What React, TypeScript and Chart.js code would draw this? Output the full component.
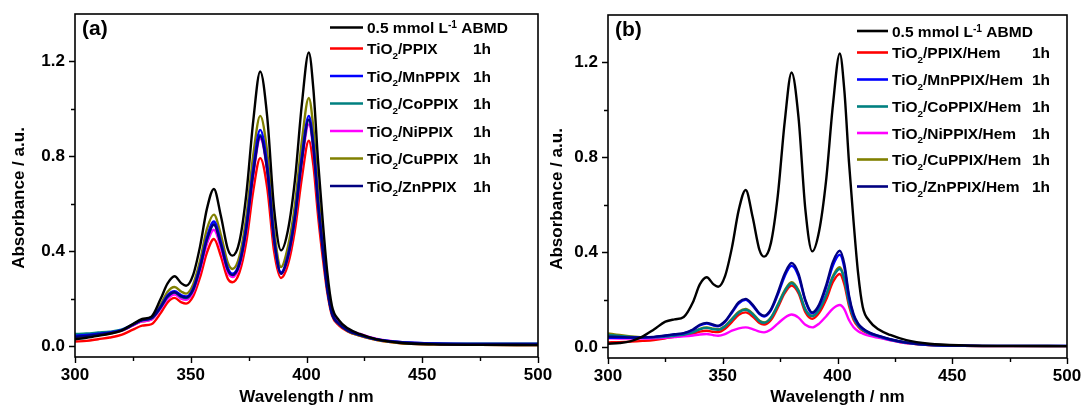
import React, { useEffect, useRef } from 'react';
import { Chart, registerables } from 'chart.js';

Chart.register(...registerables);

// ---------- data ----------
const WAVELENGTHS = [300, 305, 310, 315, 320, 325, 329, 333, 337, 340, 343, 346, 348, 351, 354, 357, 360, 363, 366, 368, 371, 374, 377, 380, 383, 386, 389, 392, 395, 398, 401, 403, 405, 407, 409, 411, 414, 418, 423, 430, 440, 455, 475, 500];

const X_TICKS = [300, 325, 350, 375, 400, 425, 450, 475, 500];
const X_TICK_LABELS = ['300', '', '350', '', '400', '', '450', '', '500'];
const Y_TICKS = [0, 0.2, 0.4, 0.6, 0.8, 1.0, 1.2];
const Y_TICK_LABELS = ['0.0', '', '0.4', '', '0.8', '', '1.2'];

const X_TITLE = 'Wavelength / nm';
const Y_TITLE = 'Absorbance / a.u.';
const DURATION = '1h';

const LABELS_A = ['0.5 mmol L^{-1} ABMD', 'TiO_{2}/PPIX', 'TiO_{2}/MnPPIX', 'TiO_{2}/CoPPIX', 'TiO_{2}/NiPPIX', 'TiO_{2}/CuPPIX', 'TiO_{2}/ZnPPIX'];
const LABELS_B = ['0.5 mmol L^{-1} ABMD', 'TiO_{2}/PPIX/Hem', 'TiO_{2}/MnPPIX/Hem', 'TiO_{2}/CoPPIX/Hem', 'TiO_{2}/NiPPIX/Hem', 'TiO_{2}/CuPPIX/Hem', 'TiO_{2}/ZnPPIX/Hem'];

// panel (a)
const A_ABMD = [0.03, 0.036, 0.044, 0.053, 0.066, 0.094, 0.115, 0.125, 0.20, 0.265, 0.295, 0.265, 0.255, 0.30, 0.42, 0.58, 0.663, 0.55, 0.41, 0.382, 0.44, 0.64, 0.95, 1.158, 0.97, 0.58, 0.404, 0.49, 0.70, 1.02, 1.238, 1.08, 0.78, 0.53, 0.31, 0.17, 0.11, 0.075, 0.052, 0.03, 0.015, 0.008, 0.006, 0.005];
const A_PPIX = [0.02, 0.023, 0.03, 0.037, 0.048, 0.07, 0.087, 0.093, 0.14, 0.185, 0.204, 0.185, 0.18, 0.21, 0.29, 0.395, 0.452, 0.38, 0.285, 0.27, 0.31, 0.44, 0.655, 0.793, 0.67, 0.40, 0.288, 0.345, 0.49, 0.71, 0.866, 0.76, 0.55, 0.375, 0.225, 0.13, 0.088, 0.062, 0.045, 0.027, 0.014, 0.008, 0.006, 0.005];
const A_MN = [0.045, 0.048, 0.053, 0.058, 0.068, 0.092, 0.112, 0.12, 0.168, 0.215, 0.232, 0.215, 0.21, 0.243, 0.338, 0.46, 0.526, 0.44, 0.33, 0.306, 0.352, 0.508, 0.75, 0.912, 0.765, 0.455, 0.312, 0.385, 0.55, 0.80, 0.971, 0.85, 0.61, 0.415, 0.245, 0.14, 0.095, 0.066, 0.048, 0.03, 0.018, 0.012, 0.01, 0.01];
const A_CO = [0.052, 0.054, 0.058, 0.062, 0.07, 0.092, 0.11, 0.117, 0.163, 0.208, 0.226, 0.208, 0.203, 0.236, 0.33, 0.45, 0.515, 0.432, 0.324, 0.302, 0.347, 0.50, 0.735, 0.89, 0.75, 0.448, 0.308, 0.38, 0.545, 0.79, 0.955, 0.835, 0.60, 0.41, 0.24, 0.138, 0.094, 0.066, 0.048, 0.03, 0.018, 0.012, 0.011, 0.011];
const A_NI = [0.045, 0.047, 0.052, 0.057, 0.066, 0.088, 0.105, 0.112, 0.158, 0.20, 0.218, 0.20, 0.196, 0.228, 0.318, 0.432, 0.491, 0.415, 0.312, 0.292, 0.336, 0.485, 0.72, 0.875, 0.74, 0.445, 0.305, 0.372, 0.535, 0.775, 0.935, 0.825, 0.60, 0.415, 0.25, 0.148, 0.102, 0.072, 0.052, 0.032, 0.018, 0.011, 0.009, 0.009];
const A_CU = [0.038, 0.042, 0.047, 0.054, 0.065, 0.088, 0.105, 0.113, 0.176, 0.23, 0.25, 0.23, 0.222, 0.26, 0.36, 0.495, 0.555, 0.47, 0.352, 0.326, 0.378, 0.545, 0.806, 0.971, 0.82, 0.49, 0.334, 0.42, 0.596, 0.865, 1.046, 0.915, 0.66, 0.45, 0.265, 0.148, 0.095, 0.063, 0.045, 0.027, 0.014, 0.008, 0.006, 0.005];
const A_ZN = [0.04, 0.044, 0.05, 0.056, 0.066, 0.09, 0.11, 0.118, 0.165, 0.21, 0.228, 0.21, 0.205, 0.238, 0.33, 0.45, 0.512, 0.43, 0.322, 0.30, 0.345, 0.495, 0.73, 0.885, 0.745, 0.45, 0.306, 0.378, 0.54, 0.785, 0.955, 0.835, 0.60, 0.41, 0.24, 0.138, 0.094, 0.065, 0.047, 0.029, 0.017, 0.011, 0.01, 0.01];

// panel (b)
const B_ABMD = [0.015, 0.018, 0.026, 0.045, 0.075, 0.108, 0.118, 0.128, 0.19, 0.265, 0.295, 0.265, 0.255, 0.30, 0.42, 0.58, 0.663, 0.55, 0.41, 0.382, 0.44, 0.64, 0.95, 1.158, 0.97, 0.58, 0.404, 0.49, 0.70, 1.02, 1.238, 1.08, 0.78, 0.53, 0.31, 0.17, 0.11, 0.075, 0.052, 0.03, 0.015, 0.008, 0.006, 0.005];
const B_PPIX = [0.021, 0.022, 0.024, 0.027, 0.031, 0.038, 0.044, 0.049, 0.058, 0.066, 0.07, 0.065, 0.064, 0.078, 0.107, 0.137, 0.147, 0.13, 0.102, 0.096, 0.115, 0.168, 0.228, 0.26, 0.228, 0.148, 0.12, 0.145, 0.20, 0.275, 0.309, 0.265, 0.175, 0.116, 0.087, 0.07, 0.055, 0.043, 0.031, 0.018, 0.01, 0.006, 0.005, 0.005];
const B_MN = [0.04, 0.04, 0.04, 0.041, 0.043, 0.049, 0.054, 0.059, 0.073, 0.092, 0.1, 0.092, 0.089, 0.107, 0.146, 0.185, 0.2, 0.176, 0.14, 0.13, 0.156, 0.222, 0.30, 0.343, 0.30, 0.195, 0.143, 0.175, 0.25, 0.345, 0.39, 0.335, 0.21, 0.135, 0.097, 0.078, 0.06, 0.047, 0.033, 0.02, 0.011, 0.007, 0.006, 0.006];
const B_CO = [0.052, 0.048, 0.044, 0.042, 0.042, 0.045, 0.049, 0.053, 0.063, 0.076, 0.082, 0.076, 0.074, 0.088, 0.117, 0.147, 0.158, 0.14, 0.11, 0.103, 0.124, 0.177, 0.236, 0.27, 0.236, 0.158, 0.131, 0.158, 0.217, 0.295, 0.33, 0.285, 0.188, 0.124, 0.092, 0.074, 0.058, 0.045, 0.032, 0.019, 0.01, 0.006, 0.005, 0.005];
const B_NI = [0.038, 0.037, 0.037, 0.037, 0.038, 0.04, 0.043, 0.046, 0.05, 0.054, 0.056, 0.051, 0.049, 0.056, 0.07, 0.08, 0.084, 0.077, 0.066, 0.063, 0.075, 0.10, 0.125, 0.138, 0.125, 0.095, 0.084, 0.10, 0.13, 0.163, 0.178, 0.16, 0.115, 0.085, 0.068, 0.058, 0.048, 0.04, 0.03, 0.018, 0.01, 0.006, 0.005, 0.005];
const B_CU = [0.059, 0.052, 0.046, 0.043, 0.043, 0.046, 0.05, 0.054, 0.065, 0.078, 0.084, 0.078, 0.076, 0.09, 0.12, 0.15, 0.162, 0.143, 0.112, 0.105, 0.126, 0.18, 0.24, 0.274, 0.24, 0.16, 0.133, 0.16, 0.22, 0.30, 0.337, 0.29, 0.19, 0.125, 0.092, 0.074, 0.058, 0.045, 0.032, 0.019, 0.01, 0.006, 0.005, 0.005];
const B_ZN = [0.045, 0.044, 0.042, 0.042, 0.044, 0.05, 0.055, 0.06, 0.075, 0.095, 0.103, 0.095, 0.091, 0.11, 0.15, 0.19, 0.204, 0.18, 0.143, 0.133, 0.16, 0.23, 0.31, 0.355, 0.31, 0.20, 0.147, 0.18, 0.26, 0.36, 0.407, 0.35, 0.22, 0.14, 0.10, 0.08, 0.062, 0.048, 0.034, 0.02, 0.011, 0.007, 0.006, 0.006];

const COLORS = ['#000000', '#ff0000', '#0000ff', '#008080', '#ff00ff', '#808000', '#000080'];
const DRAW_ORDER = [0, 6, 2, 3, 4, 5, 1];

const FONT = "'Liberation Sans', Arial, Helvetica, sans-serif";

type PanelCfg = {
  tag: string;
  labels: string[];
  series: number[][];
  padTop: number;
  padRight: number;
  yWidth: number;
  xHeight: number;
  yTitle: { x: number; y: number };
  tagPos: { x: number; y: number };
  legend: { x0: number; x1: number; tx: number; col: number; rows: number[] };
};

function drawRich(ctx: CanvasRenderingContext2D, text: string, x: number, y: number, size: number) {
  const parts = text.split(/(\^\{[^}]*\}|_\{[^}]*\})/).filter((p) => p.length > 0);
  let cx = x;
  for (const p of parts) {
    let t = p;
    let dy = 0;
    let fs = size;
    if (p.startsWith('^{')) {
      t = p.slice(2, -1);
      dy = -5;
      fs = size * 0.66;
    } else if (p.startsWith('_{')) {
      t = p.slice(2, -1);
      dy = 4.5;
      fs = size * 0.64;
    }
    ctx.font = `bold ${fs}px ${FONT}`;
    ctx.fillText(t, cx, y + dy);
    cx += ctx.measureText(t).width;
  }
  return cx;
}

function makeDecor(cfg: PanelCfg) {
  return {
    id: 'decor',
    afterDraw(chart: any) {
      const { ctx, chartArea } = chart;
      const { left, right, top, bottom } = chartArea;
      const xs = chart.scales.x;
      const ys = chart.scales.y;
      ctx.save();
      ctx.strokeStyle = '#000';
      ctx.lineWidth = 1.6;
      ctx.strokeRect(left, top, right - left, bottom - top);
      ctx.lineWidth = 1.4;
      ctx.beginPath();
      X_TICKS.forEach((v, i) => {
        const px = Math.round(xs.getPixelForValue(v)) + 0.5;
        const len = X_TICK_LABELS[i] ? 6 : 4;
        ctx.moveTo(px, bottom);
        ctx.lineTo(px, bottom + len);
      });
      Y_TICKS.forEach((v, i) => {
        const py = Math.round(ys.getPixelForValue(v)) + 0.5;
        const len = Y_TICK_LABELS[i] ? 6 : 4;
        ctx.moveTo(left, py);
        ctx.lineTo(left - len, py);
      });
      ctx.stroke();

      // y title
      ctx.fillStyle = '#000';
      ctx.save();
      ctx.translate(cfg.yTitle.x, cfg.yTitle.y);
      ctx.rotate(-Math.PI / 2);
      ctx.font = `bold 17px ${FONT}`;
      ctx.textAlign = 'center';
      ctx.textBaseline = 'middle';
      ctx.fillText(Y_TITLE, 0, 0);
      ctx.restore();

      // panel tag
      ctx.font = `bold 21px ${FONT}`;
      ctx.textAlign = 'left';
      ctx.textBaseline = 'middle';
      ctx.fillText(cfg.tag, cfg.tagPos.x, cfg.tagPos.y);

      // legend
      const lg = cfg.legend;
      ctx.textBaseline = 'alphabetic';
      cfg.labels.forEach((lab, i) => {
        const y = lg.rows[i];
        ctx.strokeStyle = COLORS[i];
        ctx.lineWidth = 2.6;
        ctx.beginPath();
        ctx.moveTo(lg.x0, y);
        ctx.lineTo(lg.x1, y);
        ctx.stroke();
        ctx.fillStyle = '#000';
        drawRich(ctx, lab, lg.tx, y + 5.5, 15.5);
        if (i > 0) {
          ctx.font = `bold 15.5px ${FONT}`;
          ctx.fillText(DURATION, lg.col, y + 5.5);
        }
      });
      ctx.restore();
    },
  };
}

function makeConfig(cfg: PanelCfg): any {
  return {
    type: 'line',
    data: {
      datasets: cfg.series.map((vals, i) => ({
        label: cfg.labels[i],
        data: WAVELENGTHS.map((w, j) => ({ x: w, y: vals[j] })),
        borderColor: COLORS[i],
        backgroundColor: COLORS[i],
        borderWidth: 2.4,
        pointRadius: 0,
        fill: false,
        cubicInterpolationMode: 'monotone',
        order: DRAW_ORDER[i],
      })),
    },
    options: {
      animation: false,
      responsive: false,
      maintainAspectRatio: false,
      events: [],
      layout: { padding: { left: 0, top: cfg.padTop, right: cfg.padRight, bottom: 0 } },
      plugins: { legend: { display: false }, tooltip: { enabled: false }, title: { display: false } },
      scales: {
        x: {
          type: 'linear',
          position: 'bottom',
          min: 300,
          max: 500,
          afterBuildTicks: (s: any) => {
            s.ticks = X_TICKS.map((v) => ({ value: v }));
          },
          afterFit: (s: any) => {
            s.height = cfg.xHeight;
            s.paddingLeft = 0;
            s.paddingRight = 0;
          },
          ticks: {
            autoSkip: false,
            maxRotation: 0,
            padding: 2,
            color: '#000',
            font: { family: FONT, size: 17, weight: 'bold' },
            callback: (_v: any, i: number) => X_TICK_LABELS[i],
          },
          grid: { display: false, drawTicks: true, tickLength: 6 },
          border: { display: false },
          title: {
            display: true,
            text: X_TITLE,
            color: '#000',
            font: { family: FONT, size: 17, weight: 'bold', lineHeight: 0.9 },
            padding: { top: 0, bottom: 0 },
          },
        },
        y: {
          type: 'linear',
          min: -0.045,
          max: 1.4,
          afterBuildTicks: (s: any) => {
            s.ticks = Y_TICKS.map((v) => ({ value: v }));
          },
          afterFit: (s: any) => {
            s.width = cfg.yWidth;
            s.paddingTop = 0;
            s.paddingBottom = 0;
          },
          ticks: {
            autoSkip: false,
            padding: 4,
            color: '#000',
            font: { family: FONT, size: 17, weight: 'bold' },
            callback: (_v: any, i: number) => Y_TICK_LABELS[i],
          },
          grid: { display: false, drawTicks: true, tickLength: 6 },
          border: { display: false },
        },
      },
    },
    plugins: [makeDecor(cfg)],
  };
}

const PANEL_A: PanelCfg = {
  tag: '(a)',
  labels: LABELS_A,
  series: [A_ABMD, A_PPIX, A_MN, A_CO, A_NI, A_CU, A_ZN],
  padTop: 14,
  padRight: 22,
  yWidth: 75,
  xHeight: 48,
  yTitle: { x: 19, y: 198 },
  tagPos: { x: 82, y: 29 },
  legend: { x0: 330, x1: 363, tx: 367, col: 473, rows: [27.5, 48.5, 76, 103.5, 131, 158.5, 186] },
};

const PANEL_B: PanelCfg = {
  tag: '(b)',
  labels: LABELS_B,
  series: [B_ABMD, B_PPIX, B_MN, B_CO, B_NI, B_CU, B_ZN],
  padTop: 15,
  padRight: 14,
  yWidth: 63,
  xHeight: 47,
  yTitle: { x: 12.5, y: 199 },
  tagPos: { x: 70, y: 30 },
  legend: { x0: 312, x1: 343, tx: 347, col: 487, rows: [31, 52.5, 79.5, 106.5, 133, 159.5, 186.5] },
};

export default function App() {
  const refA = useRef<HTMLCanvasElement | null>(null);
  const refB = useRef<HTMLCanvasElement | null>(null);

  useEffect(() => {
    const ca = new Chart(refA.current as HTMLCanvasElement, makeConfig(PANEL_A));
    const cb = new Chart(refB.current as HTMLCanvasElement, makeConfig(PANEL_B));
    return () => {
      ca.destroy();
      cb.destroy();
    };
  }, []);

  return (
    <div style={{ position: 'absolute', left: 0, top: 0, width: 1081, height: 405, background: '#fff', overflow: 'hidden' }}>
      <canvas ref={refA} width={560} height={405} style={{ position: 'absolute', left: 0, top: 0, width: 560, height: 405 }} />
      <canvas ref={refB} width={536} height={405} style={{ position: 'absolute', left: 545, top: 0, width: 536, height: 405 }} />
    </div>
  );
}
